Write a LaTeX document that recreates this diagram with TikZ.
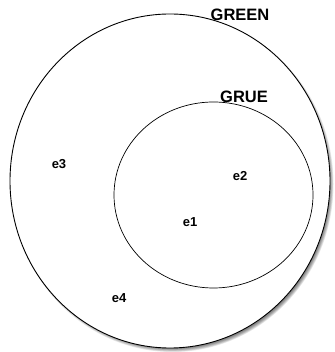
\documentclass[tikz,border=0pt]{standalone}
\usepackage{fontspec}
\setmainfont{Liberation Sans}
\begin{document}
\begin{tikzpicture}[x=1pt,y=1pt,
  setlabel/.style={font=\fontsize{16.5}{18}\selectfont\bfseries, inner sep=0pt},
  elabel/.style={font=\fontsize{13}{15}\selectfont\bfseries, inner sep=0pt},
  setline/.style={draw=black, line width=0.9pt}]
\useasboundingbox (0,0) rectangle (334,352);
% soft shadow of the big set
\foreach \k in {1,...,7}{
  \fill[black, opacity=0.09] (172.5,168) ellipse [x radius={160+1.6-0.6*\k}, y radius={167+1.6-0.6*\k}];
}
\fill[white] (170,171) ellipse [x radius=160, y radius=167];
\draw[setline] (170,171) ellipse [x radius=160, y radius=167];
\draw[setline, line width=0.7pt] (213.5,157) ellipse [x radius=99.5, y radius=93];
\node[setlabel] (green) at (240,337) {GREEN};
\node[setlabel] (grue) at (244,255) {GRUE};
\node[elabel] (e3) at (59,188) {e3};
\node[elabel] (e2) at (240,176) {e2};
\node[elabel] (e1) at (190,130) {e1};
\node[elabel] (e4) at (119,54) {e4};
\end{tikzpicture}
\end{document}
